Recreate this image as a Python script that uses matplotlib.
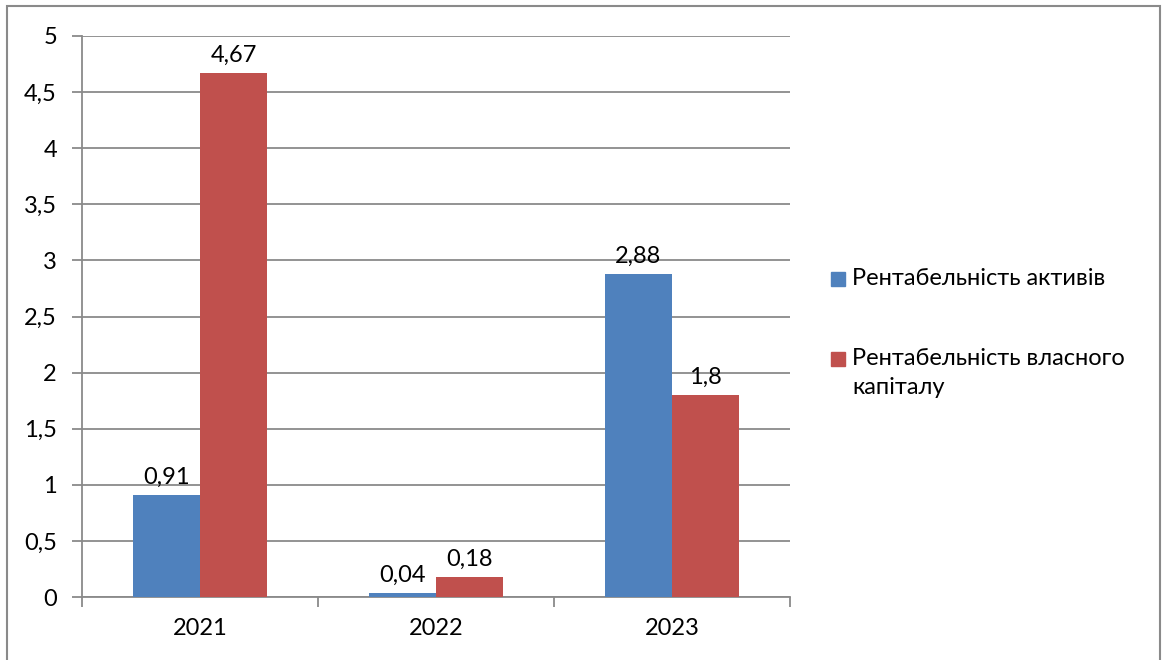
import matplotlib
matplotlib.use('Agg')
import matplotlib.pyplot as plt
import matplotlib.patches as mpatches
import numpy as np

years = ['2021', '2022', '2023']
assets = [0.91, 0.04, 2.88]
equity = [4.67, 0.18, 1.8]
series_names = ['Рентабельність активів', 'Рентабельність власного\nкапіталу']
colors = ['#4F81BD', '#C0504D']
yticks = [0, 0.5, 1, 1.5, 2, 2.5, 3, 3.5, 4, 4.5, 5]

plt.rcParams['font.family'] = ['Lato', 'DejaVu Sans']
FS = 17
GREY = '#8a8a8a'

def comma(v):
    s = ('%g' % v)
    return s.replace('.', ',')

fig = plt.figure(figsize=(11.66, 6.6), dpi=100)
ax = fig.add_axes([82/1166, 1-597/660, (790-82)/1166, (597-36)/660])

x = np.arange(len(years))
w = 0.284
b1 = ax.bar(x - w/2, assets, width=w, color=colors[0], zorder=3)
b2 = ax.bar(x + w/2, equity, width=w, color=colors[1], zorder=3)

for bars, vals in ((b1, assets), (b2, equity)):
    for r, v in zip(bars, vals):
        ax.annotate(comma(v), (r.get_x() + r.get_width()/2, v), xytext=(0, 5),
                    textcoords='offset points', ha='center', va='bottom', fontsize=FS)

ax.set_xlim(-0.5, 2.5)
ax.set_ylim(0, 5)
ax.set_yticks(yticks)
ax.set_yticklabels([comma(t) for t in yticks], fontsize=FS)
ax.yaxis.grid(True, color=GREY, linewidth=1.3, zorder=0)
ax.set_axisbelow(True)

# categories labelled at centres, tick marks at boundaries
ax.set_xticks(x)
ax.set_xticklabels(years, fontsize=FS)
ax.tick_params(axis='x', length=0, pad=15)
ax.set_xticks([-0.5, 0.5, 1.5, 2.5], minor=True)
ax.tick_params(axis='x', which='minor', length=7, width=1.3, color=GREY)
ax.tick_params(axis='y', length=7, width=1.3, color=GREY, pad=11)

for s in ['top', 'right']:
    ax.spines[s].set_visible(False)
ax.spines['left'].set_color(GREY)
ax.spines['left'].set_linewidth(1.3)
ax.spines['bottom'].set_color(GREY)
ax.spines['bottom'].set_linewidth(1.3)

# legend drawn to match the Excel layout
leg_y = [1-279/660, 1-359/660]
for c, name, yy in zip(colors, series_names, leg_y):
    fig.patches.append(mpatches.Rectangle((831/1166, yy - 7/660), 14/1166, 14/660,
                                          transform=fig.transFigure, color=c))
    fig.text(852/1166, yy + 11/660, name, fontsize=FS, va='top', ha='left', linespacing=1.5)

# outer chart border
fig.patches.append(mpatches.Rectangle((7/1166, -0.05), 1153/1166, 1.05 - 6/660,
                                      transform=fig.transFigure, fill=False,
                                      edgecolor=GREY, linewidth=1.5))

plt.savefig('out.png', dpi=100)
